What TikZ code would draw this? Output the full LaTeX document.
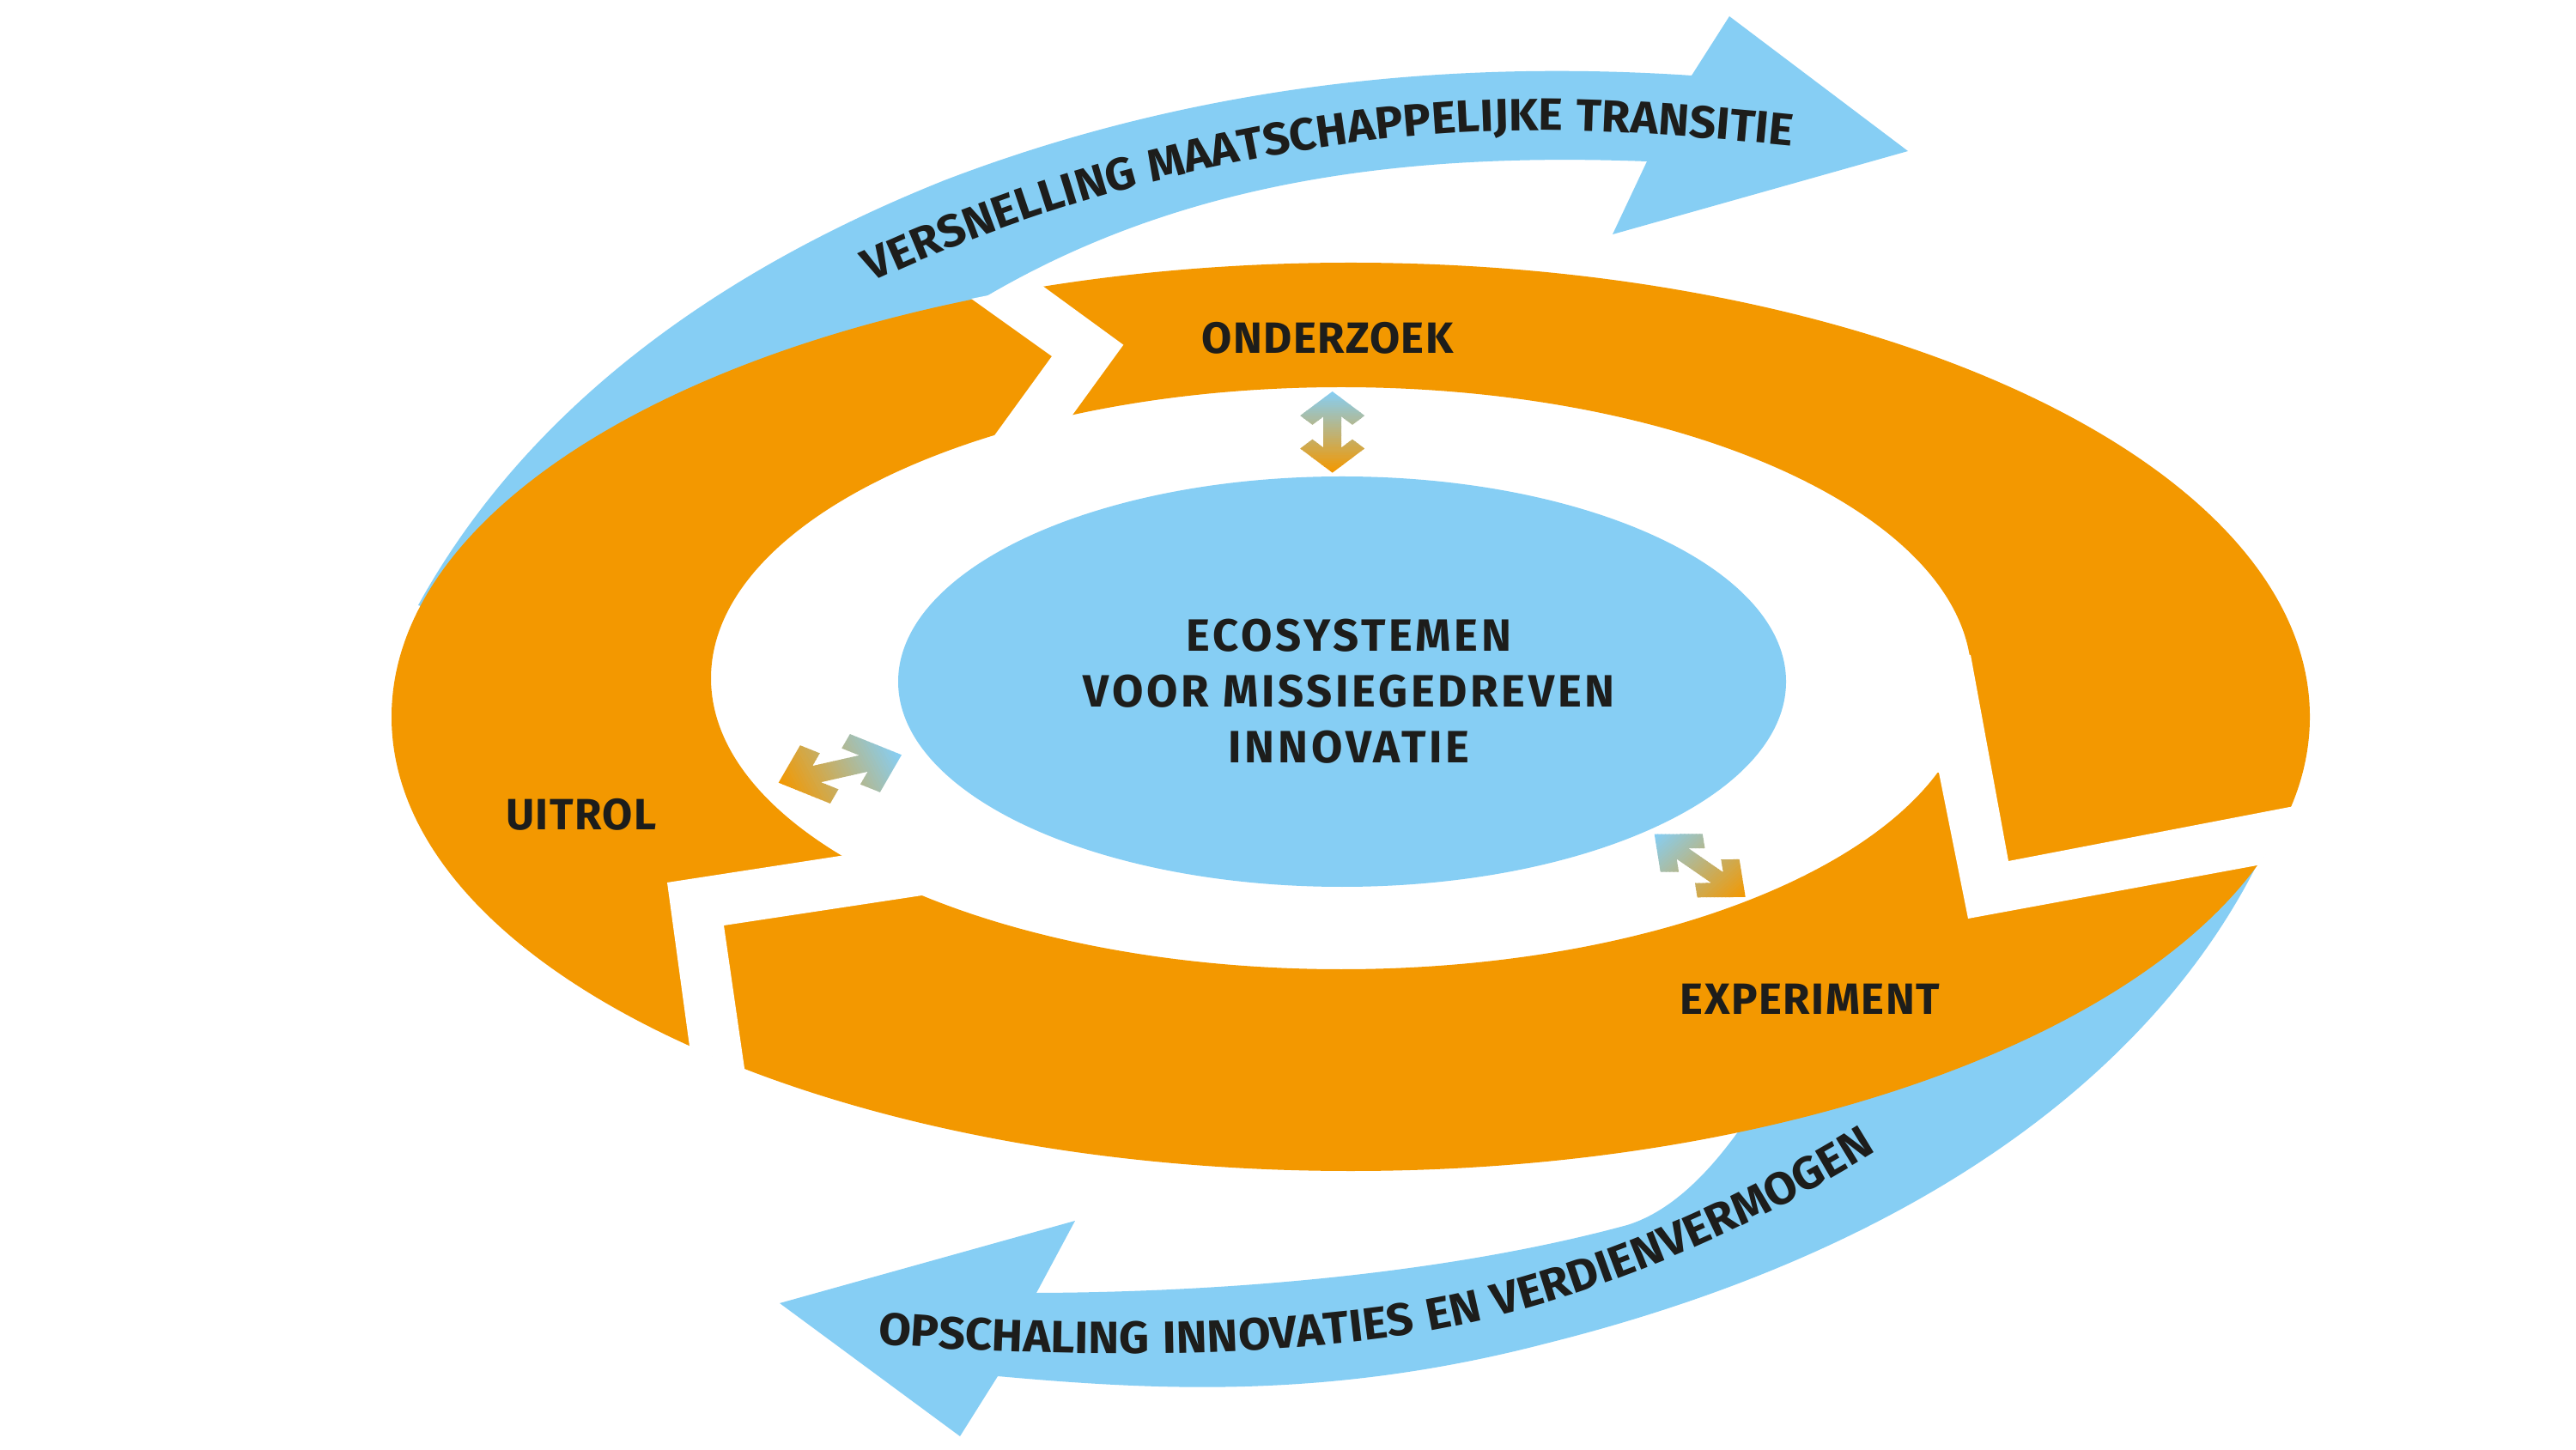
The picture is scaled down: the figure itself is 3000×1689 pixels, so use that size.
\documentclass[tikz,border=0pt]{standalone}
\usepackage{fontspec}
\newfontfamily\labfont{Fira Sans}[LetterSpace=3]
\newfontfamily\ctrfont{Fira Sans}[LetterSpace=7]
\newfontfamily\arrowfontA{Fira Sans}[LetterSpace=4.5,FakeStretch=1.03]
\newfontfamily\arrowfontB{Fira Sans}[LetterSpace=5.5,FakeStretch=1.035]
\usetikzlibrary{decorations.text}
\definecolor{blueC}{RGB}{134,206,244}
\definecolor{orangeC}{RGB}{243,152,0}
\definecolor{inkC}{RGB}{29,29,27}
\newcommand\arrowtextfontA{\arrowfontA\bfseries\fontsize{15}{15}\selectfont}
\newcommand\arrowtextfontB{\arrowfontB\bfseries\fontsize{15}{15}\selectfont}
\tikzset{
  lab/.style={font=\labfont\bfseries\fontsize{14.5}{17}\selectfont, text=inkC, inner sep=0pt},
  ctext/.style={font=\ctrfont\bfseries\fontsize{15}{18.5}\selectfont, text=inkC, inner sep=0pt, align=center},
  ringfill/.style={fill=orangeC, even odd rule},
  gapfill/.style={fill=white},
  bandfill/.style={fill=blueC},
}
% gradient double arrow, local coords: blue head at +u, orange head at -u
\newcommand\gradarrow[1]{%
  \begin{scope}[#1]
    \clip (63,0) -- (25.5,37.5) -- (11.25,23.25) -- (24,10.5) -- (-24,10.5) -- (-11.25,23.25)
      -- (-25.5,37.5) -- (-63,0) -- (-25.5,-37.5) -- (-11.25,-23.25) -- (-24,-10.5) -- (24,-10.5)
      -- (11.25,-23.25) -- (25.5,-37.5) -- cycle;
    \foreach \i in {0,...,41}{
      \pgfmathsetmacro\p{\i*100/41}
      \fill[blueC!\p!orangeC] ({-63+\i*3},-45) rectangle ({-63+(\i+1)*3+0.6},45);
    }
  \end{scope}}
\begin{document}
\begin{tikzpicture}[x=0.01cm,y=0.01cm]
\useasboundingbox (0,0) rectangle (3000,-1689);
\fill[white] (0,0) rectangle (3000,-1689);

% top blue arrow
\fill[bandfill] (487,-705) .. controls (600,-500) and (800,-330) .. (1100,-210)
  .. controls (1400,-95) and (1700,-70) .. (1970,-88) -- (2014,-19) -- (2222,-176)
  -- (1878,-273) -- (1918,-188) .. controls (1650,-178) and (1380,-205) .. (1137,-352)
  -- (900,-520) -- (650,-760) -- cycle;
% bottom blue arrow
\fill[bandfill] (2628,-1008) .. controls (2500,-1260) and (2220,-1460) .. (1800,-1565)
  .. controls (1550,-1630) and (1350,-1620) .. (1162,-1603) -- (1118,-1673) -- (908,-1518)
  -- (1252,-1422) -- (1207,-1506) .. controls (1450,-1505) and (1700,-1480) .. (1895,-1427)
  .. controls (1950,-1410) and (1995,-1360) .. (2030,-1310) -- (2300,-1150) -- cycle;

% orange ring
\fill[ringfill] (1573,-835) ellipse [x radius=1117, y radius=529]
  (1562,-790) ellipse [x radius=734, y radius=339];
% gaps between the ring segments
\begin{scope}
  \clip (1573,-835) ellipse [x radius=1118, y radius=530];
  \fill[gapfill] (1092,-320) -- (1225,-415) -- (1122,-557) -- (1218,-526) -- (1308.3,-401.7) -- (1173,-303) -- cycle;
  \fill[gapfill] (2200,-763) -- (2295,-763) -- (2339,-1003) -- (2750,-924) -- (2710,-993) -- (2292,-1070) -- (2258,-900) -- (2200,-900) -- cycle;
  \fill[gapfill] (1030,-989) -- (777,-1028) -- (810,-1270) -- (875,-1300) -- (843,-1078) -- (1120,-1036) -- cycle;
\end{scope}

% central ellipse
\fill[bandfill] (1563,-794) ellipse [x radius=517, y radius=239];

% gradient double arrows
\gradarrow{shift={(1551.7,-503.3)},cm={0,0.751,1,0,(0,0)}}
\gradarrow{shift={(978.35,-895.5)},cm={1.137,0.257,-0.467,0.903,(0,0)}}
\gradarrow{shift={(1979.7,-1008.3)},cm={-0.841,0.581,0.653,0.591,(0,0)}}

% labels
\node[lab] (onderzoek) at (1546,-394) {ONDERZOEK};
\node[lab] (uitrol) at (677,-949) {UITROL};
\node[lab] (experiment) at (2108,-1164) {EXPERIMENT};
\node[ctext] (eco) at (1571,-805) {ECOSYSTEMEN\\VOOR MISSIEGEDREVEN\\INNOVATIE};

% curved texts
\path[decorate, decoration={text along path, text color=inkC,
  text={|\arrowtextfontA|VERSNELLING MAATSCHAPPELIJKE TRANSITIE}}]
  (1015,-329) .. controls (1260,-214) and (1550,-150) .. (1800,-152)
  .. controls (1900,-153) and (2000,-160) .. (2200,-182);
\path[decorate, decoration={text along path, text color=inkC,
  text={|\arrowtextfontB|OPSCHALING INNOVATIES EN VERDIENVERMOGEN}}]
  (1022,-1565) .. controls (1200,-1580) and (1450,-1585) .. (1650,-1553)
  .. controls (1850,-1520) and (2080,-1420) .. (2270,-1285);
\end{tikzpicture}
\end{document}
